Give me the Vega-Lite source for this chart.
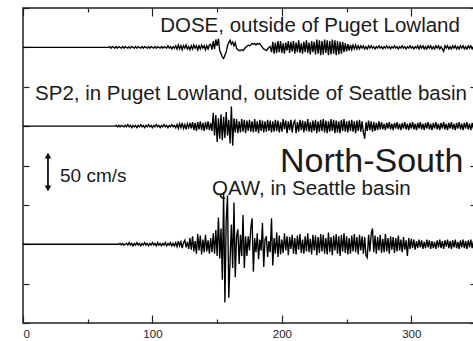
{
"$schema":"https://vega.github.io/schema/vega-lite/v6.json",
"width":453,"height":315,"autosize":"none",
"padding":{"left":23,"top":8,"right":0,"bottom":18},
"config":{"view":{"stroke":"#222","strokeWidth":1.5},"font":"Liberation Sans",
"axis":{"grid":false,"domain":false,"tickColor":"#222","tickWidth":1.2,"title":null,"labelFont":"Liberation Sans","labelColor":"#222"}},
"datasets":{"seis":[
{"t":0,"d":0,"s":0,"q":0},{"t":60,"d":0,"s":0,"q":0},{"t":66,"d":0,"s":0,"q":0},
{"t":67,"d":1,"s":0,"q":0},{"t":68,"d":-1,"s":0,"q":0},{"t":69,"d":1,"s":0,"q":0},{"t":70,"d":0,"s":0,"q":0},
{"t":71,"d":-1,"s":0,"q":0},{"t":72,"d":1,"s":1,"q":0},{"t":73,"d":-1,"s":-1,"q":0},{"t":74,"d":1,"s":1,"q":0},
{"t":75,"d":0,"s":-1,"q":1},{"t":76,"d":-1,"s":1,"q":-1},{"t":77,"d":1,"s":0,"q":1},{"t":78,"d":-1,"s":-1,"q":-1},
{"t":79,"d":1,"s":1,"q":0},{"t":80,"d":0,"s":-1,"q":1},{"t":81,"d":-1,"s":2,"q":-1},{"t":82,"d":1,"s":-1,"q":2},
{"t":83,"d":-1,"s":1,"q":-1},{"t":84,"d":1,"s":-2,"q":1},{"t":85,"d":0,"s":1,"q":-2},{"t":86,"d":-1,"s":-1,"q":1},
{"t":87,"d":1,"s":1,"q":-1},{"t":88,"d":-1,"s":-2,"q":2},{"t":89,"d":1,"s":1,"q":-1},{"t":90,"d":0,"s":-1,"q":1},
{"t":91,"d":-1,"s":2,"q":-2},{"t":92,"d":1,"s":-1,"q":1},{"t":93,"d":-1,"s":1,"q":-1},{"t":94,"d":1,"s":-2,"q":2},
{"t":95,"d":0,"s":1,"q":-1},{"t":96,"d":-1,"s":-1,"q":1},{"t":97,"d":1,"s":2,"q":-2},{"t":98,"d":-1,"s":-1,"q":1},
{"t":99,"d":1,"s":1,"q":-1},{"t":100,"d":0,"s":-2,"q":2},{"t":101,"d":-1,"s":1,"q":-1},{"t":102,"d":1,"s":-1,"q":1},
{"t":103,"d":-1,"s":2,"q":-2},{"t":104,"d":1,"s":-1,"q":2},{"t":105,"d":0,"s":1,"q":-1},{"t":106,"d":-1,"s":-2,"q":1},
{"t":107,"d":1,"s":1,"q":-2},{"t":108,"d":-1,"s":-1,"q":1},{"t":109,"d":1,"s":2,"q":-1},{"t":110,"d":0,"s":-1,"q":2},
{"t":111,"d":-1,"s":1,"q":-2},{"t":112,"d":2,"s":-2,"q":1},{"t":113,"d":-1,"s":1,"q":-1},{"t":114,"d":1,"s":-1,"q":2},
{"t":115,"d":-2,"s":2,"q":-2},{"t":116,"d":1,"s":-1,"q":1},{"t":117,"d":-1,"s":1,"q":-2},{"t":118,"d":2,"s":-2,"q":2},
{"t":119,"d":-2,"s":2,"q":-3},{"t":120,"d":3,"s":-3,"q":4},{"t":121,"d":-2,"s":3,"q":-2},{"t":122,"d":2,"s":-2,"q":3},
{"t":123,"d":-3,"s":4,"q":-5},{"t":124,"d":2,"s":-3,"q":2},{"t":125,"d":-1,"s":2,"q":5},{"t":126,"d":3,"s":-4,"q":-4},
{"t":127,"d":-2,"s":3,"q":3},{"t":128,"d":1,"s":-2,"q":-6},{"t":129,"d":-3,"s":4,"q":8},{"t":130,"d":2,"s":-3,"q":-7},
{"t":131,"d":-2,"s":5,"q":10},{"t":132,"d":3,"s":-5,"q":-9},{"t":133,"d":-1,"s":4,"q":4},{"t":134,"d":2,"s":-6,"q":-12},
{"t":135,"d":-3,"s":5,"q":13},{"t":136,"d":2,"s":-4,"q":-8},{"t":137,"d":-2,"s":6,"q":11},{"t":138,"d":3,"s":-5,"q":-13},
{"t":139,"d":-1,"s":4,"q":6},{"t":140,"d":2,"s":-6,"q":-10},{"t":141,"d":-3,"s":5,"q":12},{"t":142,"d":2,"s":-4,"q":-9},
{"t":143,"d":-2,"s":6,"q":5},{"t":144,"d":3,"s":-5,"q":-12},{"t":145,"d":4,"s":4,"q":8},{"t":146,"d":-3,"s":-6,"q":-10},
{"t":147,"d":8,"s":17,"q":14},{"t":148,"d":-2,"s":-12,"q":-12},{"t":149,"d":10,"s":14,"q":18},{"t":150,"d":2,"s":-20,"q":-15},
{"t":151,"d":11,"s":10,"q":34},{"t":152,"d":-4,"s":-16,"q":-18},{"t":153,"d":-8,"s":15,"q":20},{"t":154,"d":-12,"s":-18,"q":-45},
{"t":155,"d":-14,"s":12,"q":66},{"t":156,"d":-10,"s":-15,"q":-74},{"t":157,"d":-6,"s":18,"q":30},{"t":158,"d":2,"s":-12,"q":62},
{"t":159,"d":6,"s":8,"q":-68},{"t":160,"d":9,"s":-22,"q":-20},{"t":161,"d":4,"s":25,"q":25},{"t":162,"d":7,"s":-25,"q":-30},
{"t":163,"d":2,"s":10,"q":53},{"t":164,"d":6,"s":-8,"q":-42},{"t":165,"d":-1,"s":9,"q":10},{"t":166,"d":-3,"s":-9,"q":19},
{"t":167,"d":-4,"s":6,"q":-25},{"t":168,"d":-4,"s":-8,"q":12},{"t":169,"d":-3,"s":9,"q":-15},{"t":170,"d":-4,"s":-7,"q":37},
{"t":171,"d":-2,"s":8,"q":-30},{"t":172,"d":0,"s":-9,"q":10},{"t":173,"d":1,"s":7,"q":-15},{"t":174,"d":3,"s":-6,"q":10},
{"t":175,"d":2,"s":8,"q":-8},{"t":176,"d":3,"s":-7,"q":20},{"t":177,"d":5,"s":6,"q":33},{"t":178,"d":4,"s":-8,"q":-35},
{"t":179,"d":5,"s":9,"q":8},{"t":180,"d":3,"s":-7,"q":-10},{"t":181,"d":5,"s":6,"q":14},{"t":182,"d":4,"s":-9,"q":-19},
{"t":183,"d":5,"s":8,"q":6},{"t":184,"d":2,"s":-6,"q":-8},{"t":185,"d":0,"s":7,"q":27},{"t":186,"d":-2,"s":-8,"q":-29},
{"t":187,"d":-3,"s":6,"q":6},{"t":188,"d":-4,"s":-7,"q":10},{"t":189,"d":-2,"s":8,"q":-16},{"t":190,"d":0,"s":-6,"q":4},
{"t":191,"d":1,"s":7,"q":-10},{"t":192,"d":-6,"s":-8,"q":33},{"t":193,"d":7,"s":6,"q":-27},{"t":194,"d":-8,"s":-7,"q":8},
{"t":195,"d":6,"s":8,"q":-12},{"t":196,"d":-7,"s":-6,"q":15},{"t":197,"d":8,"s":7,"q":-16},{"t":198,"d":-6,"s":-8,"q":11},
{"t":199,"d":8,"s":5,"q":-13},{"t":200,"d":-7,"s":-7,"q":6},{"t":201,"d":5,"s":9,"q":-11},{"t":202,"d":-8,"s":-4,"q":14},
{"t":203,"d":6,"s":7,"q":-8},{"t":204,"d":-4,"s":-9,"q":10},{"t":205,"d":8,"s":6,"q":-14},{"t":206,"d":-7,"s":-5,"q":9},
{"t":207,"d":7,"s":8,"q":-6},{"t":208,"d":-5,"s":-8,"q":12},{"t":209,"d":8,"s":4,"q":-12},{"t":210,"d":-8,"s":7,"q":8},
{"t":211,"d":6,"s":-9,"q":-13},{"t":212,"d":-6,"s":5,"q":11},{"t":213,"d":9,"s":-7,"q":-7},{"t":214,"d":-7,"s":8,"q":13},
{"t":215,"d":5,"s":-5,"q":-11},{"t":216,"d":-8,"s":7,"q":6},{"t":217,"d":7,"s":-8,"q":-12},{"t":218,"d":-6,"s":6,"q":10},
{"t":219,"d":9,"s":-6,"q":-9},{"t":220,"d":-7,"s":9,"q":14},{"t":221,"d":6,"s":-7,"q":-10},{"t":222,"d":-9,"s":5,"q":7},
{"t":223,"d":8,"s":-8,"q":-13},{"t":224,"d":-6,"s":7,"q":12},{"t":225,"d":7,"s":-6,"q":-8},{"t":226,"d":-9,"s":8,"q":11},
{"t":227,"d":10,"s":-9,"q":-14},{"t":228,"d":-8,"s":6,"q":9},{"t":229,"d":9,"s":-7,"q":-11},{"t":230,"d":-10,"s":8,"q":13},
{"t":231,"d":8,"s":-6,"q":-9},{"t":232,"d":-9,"s":9,"q":12},{"t":233,"d":10,"s":-8,"q":-12},{"t":234,"d":-7,"s":7,"q":8},
{"t":235,"d":9,"s":-9,"q":-13},{"t":236,"d":-10,"s":6,"q":15},{"t":237,"d":8,"s":-7,"q":-10},{"t":238,"d":-9,"s":9,"q":9},
{"t":239,"d":10,"s":-6,"q":-14},{"t":240,"d":-8,"s":8,"q":11},{"t":241,"d":9,"s":-9,"q":-8},{"t":242,"d":-10,"s":7,"q":13},
{"t":243,"d":8,"s":-8,"q":-12},{"t":244,"d":-9,"s":6,"q":10},{"t":245,"d":7,"s":-9,"q":-15},{"t":246,"d":-8,"s":8,"q":12},
{"t":247,"d":7,"s":-6,"q":-9},{"t":248,"d":-6,"s":9,"q":14},{"t":249,"d":5,"s":-7,"q":-11},{"t":250,"d":-5,"s":6,"q":10},
{"t":251,"d":4,"s":-8,"q":-13},{"t":252,"d":-4,"s":7,"q":8},{"t":253,"d":3,"s":-6,"q":-12},{"t":254,"d":-3,"s":8,"q":11},
{"t":255,"d":3,"s":-7,"q":-9},{"t":256,"d":-2,"s":6,"q":13},{"t":257,"d":3,"s":-9,"q":-10},{"t":258,"d":-2,"s":7,"q":9},
{"t":259,"d":2,"s":-6,"q":-13},{"t":260,"d":-2,"s":8,"q":12},{"t":261,"d":2,"s":-7,"q":-8},{"t":262,"d":-1,"s":6,"q":10},
{"t":263,"d":2,"s":-8,"q":-12},{"t":264,"d":-2,"s":-16,"q":9},{"t":265,"d":1,"s":5,"q":-14},{"t":266,"d":-2,"s":-6,"q":-17},
{"t":267,"d":2,"s":7,"q":12},{"t":268,"d":-1,"s":-5,"q":-9},{"t":269,"d":2,"s":6,"q":13},{"t":270,"d":-1,"s":-7,"q":20},
{"t":271,"d":1,"s":5,"q":-10},{"t":272,"d":-2,"s":-6,"q":11},{"t":273,"d":1,"s":4,"q":-12},{"t":274,"d":-1,"s":-5,"q":9},
{"t":275,"d":2,"s":6,"q":-8},{"t":276,"d":-1,"s":-4,"q":12},{"t":277,"d":1,"s":5,"q":-11},{"t":278,"d":-2,"s":-4,"q":7},
{"t":279,"d":1,"s":3,"q":-10},{"t":280,"d":-1,"s":-5,"q":13},{"t":281,"d":2,"s":4,"q":-9},{"t":282,"d":-1,"s":-3,"q":8},
{"t":283,"d":1,"s":5,"q":-12},{"t":284,"d":-2,"s":-4,"q":10},{"t":285,"d":1,"s":3,"q":-7},{"t":286,"d":-1,"s":-5,"q":9},
{"t":287,"d":2,"s":4,"q":-11},{"t":288,"d":-1,"s":-3,"q":8},{"t":289,"d":1,"s":5,"q":-9},{"t":290,"d":-2,"s":-4,"q":11},
{"t":291,"d":1,"s":3,"q":-8},{"t":292,"d":-1,"s":-5,"q":6},{"t":293,"d":2,"s":4,"q":-10},{"t":294,"d":-1,"s":-3,"q":9},
{"t":295,"d":1,"s":5,"q":-7},{"t":296,"d":-2,"s":-4,"q":5},{"t":297,"d":1,"s":3,"q":-15},{"t":298,"d":-1,"s":-5,"q":8},
{"t":299,"d":2,"s":4,"q":-6},{"t":300,"d":-1,"s":-3,"q":7},{"t":301,"d":1,"s":5,"q":-5},{"t":302,"d":-2,"s":-4,"q":6},
{"t":303,"d":1,"s":3,"q":-7},{"t":304,"d":-1,"s":-5,"q":4},{"t":305,"d":2,"s":4,"q":-5},{"t":306,"d":-2,"s":-3,"q":6},
{"t":307,"d":2,"s":5,"q":-4},{"t":308,"d":-1,"s":-4,"q":5},{"t":309,"d":2,"s":3,"q":-6},{"t":310,"d":-2,"s":-5,"q":3},
{"t":311,"d":1,"s":4,"q":-5},{"t":312,"d":-2,"s":-3,"q":6},{"t":313,"d":2,"s":5,"q":-4},{"t":314,"d":-1,"s":-4,"q":5},
{"t":315,"d":2,"s":3,"q":-6},{"t":316,"d":-2,"s":-5,"q":4},{"t":317,"d":1,"s":4,"q":-5},{"t":318,"d":-2,"s":-3,"q":3},
{"t":319,"d":2,"s":5,"q":-6},{"t":320,"d":-1,"s":-4,"q":5},{"t":321,"d":2,"s":3,"q":-4},{"t":322,"d":-2,"s":-5,"q":6},
{"t":323,"d":1,"s":4,"q":-5},{"t":324,"d":-2,"s":-3,"q":4},{"t":325,"d":-5,"s":5,"q":-6},{"t":326,"d":2,"s":-4,"q":5},
{"t":327,"d":-1,"s":3,"q":-3},{"t":328,"d":2,"s":-5,"q":6},{"t":329,"d":-2,"s":4,"q":-5},{"t":330,"d":1,"s":-3,"q":4},
{"t":331,"d":-2,"s":5,"q":-6},{"t":332,"d":2,"s":-4,"q":5},{"t":333,"d":-1,"s":3,"q":-4},{"t":334,"d":2,"s":-5,"q":6},
{"t":335,"d":-2,"s":4,"q":-5},{"t":336,"d":1,"s":-3,"q":3},{"t":337,"d":-2,"s":5,"q":-6},{"t":338,"d":2,"s":-4,"q":5},
{"t":339,"d":-1,"s":3,"q":-4},{"t":340,"d":2,"s":-5,"q":6},{"t":341,"d":-2,"s":4,"q":-5},{"t":342,"d":1,"s":-3,"q":4},
{"t":343,"d":-2,"s":5,"q":-6},{"t":344,"d":2,"s":-4,"q":5},{"t":345,"d":-1,"s":3,"q":-4},{"t":346,"d":2,"s":-5,"q":6},
{"t":347,"d":-2,"s":4,"q":-5},{"t":348,"d":1,"s":-3,"q":4},{"t":349,"d":-2,"s":5,"q":-6},{"t":350,"d":2,"s":-4,"q":5}
]},
"layer":[
{"data":{"name":"seis"},"mark":{"type":"line","color":"#000","strokeWidth":1.35,"clip":true},
 "encoding":{
  "x":{"field":"t","type":"quantitative","scale":{"domain":[0,350],"nice":false},
       "axis":{"orient":"bottom","values":[0,100,200,300],"tickSize":-8,"labelPadding":13,"labelFontSize":11.5,"labels":true}},
  "y":{"field":"q","type":"quantitative","scale":{"domain":[-100,300],"nice":false,"zero":false},
       "axis":{"orient":"left","values":[-100,-50,0,50,100,150,200,250,300],"tickSize":-6,"labels":false}}}},
{"data":{"name":"seis"},"mark":{"type":"line","color":"#000","strokeWidth":1.35,"clip":true},
 "encoding":{
  "x":{"field":"t","type":"quantitative","scale":{"domain":[0,350],"nice":false},
       "axis":{"orient":"bottom","values":[50,150,250,350],"tickSize":-4,"labels":false}},
  "y":{"field":"s","type":"quantitative","scale":{"domain":[-250,150],"nice":false,"zero":false},
       "axis":{"orient":"right","values":[-250,-200,-150,-100,-50,0,50,100,150],"tickSize":-6,"labels":false}}}},
{"data":{"name":"seis"},"mark":{"type":"line","color":"#000","strokeWidth":1.35,"clip":true},
 "encoding":{
  "x":{"field":"t","type":"quantitative","scale":{"domain":[0,350],"nice":false},
       "axis":{"orient":"top","values":[0,100,200,300],"tickSize":-8,"labels":false}},
  "y":{"field":"d","type":"quantitative","scale":{"domain":[-350,50],"nice":false,"zero":false},"axis":null}}},
{"data":{"values":[{}]},"mark":{"type":"text","align":"left","baseline":"alphabetic","fontSize":20.5,"color":"#1a1a1a"},
 "encoding":{"x":{"datum":106,"type":"quantitative","axis":{"orient":"top","values":[50,150,250,350],"tickSize":-4,"labels":false}},
  "y":{"datum":269.5,"type":"quantitative","scale":{"domain":[-100,300],"nice":false,"zero":false},"axis":null},
  "text":{"value":"DOSE, outside of Puget Lowland"}}},
{"data":{"values":[{}]},"mark":{"type":"text","align":"left","baseline":"alphabetic","fontSize":20.5,"color":"#1a1a1a"},
 "encoding":{"x":{"datum":9.3,"type":"quantitative","axis":null},
  "y":{"datum":183,"type":"quantitative","scale":{"domain":[-100,300],"nice":false,"zero":false},"axis":null},
  "text":{"value":"SP2, in Puget Lowland, outside of Seattle basin"}}},
{"data":{"values":[{}]},"mark":{"type":"text","align":"left","baseline":"alphabetic","fontSize":34,"color":"#1a1a1a"},
 "encoding":{"x":{"datum":198.6,"type":"quantitative","axis":null},
  "y":{"datum":92,"type":"quantitative","scale":{"domain":[-100,300],"nice":false,"zero":false},"axis":null},
  "text":{"value":"North-South"}}},
{"data":{"values":[{}]},"mark":{"type":"text","align":"left","baseline":"alphabetic","fontSize":19,"color":"#1a1a1a"},
 "encoding":{"x":{"datum":28.6,"type":"quantitative","axis":null},
  "y":{"datum":79,"type":"quantitative","scale":{"domain":[-100,300],"nice":false,"zero":false},"axis":null},
  "text":{"value":"50 cm/s"}}},
{"data":{"values":[{}]},"mark":{"type":"text","align":"left","baseline":"alphabetic","fontSize":20.5,"color":"#1a1a1a"},
 "encoding":{"x":{"datum":146,"type":"quantitative","axis":null},
  "y":{"datum":62.5,"type":"quantitative","scale":{"domain":[-100,300],"nice":false,"zero":false},"axis":null},
  "text":{"value":"QAW, in Seattle basin"}}},
{"data":{"values":[{}]},"mark":{"type":"rule","color":"#111","strokeWidth":1.8},
 "encoding":{"x":{"datum":19.3,"type":"quantitative","axis":null},
  "y":{"datum":70,"type":"quantitative","scale":{"domain":[-100,300],"nice":false,"zero":false},"axis":null},
  "y2":{"datum":113}}},
{"data":{"values":[{}]},"mark":{"type":"point","shape":"triangle-up","filled":true,"color":"#111","size":45,"opacity":1},
 "encoding":{"x":{"datum":19.3,"type":"quantitative","axis":null},
  "y":{"datum":112.5,"type":"quantitative","scale":{"domain":[-100,300],"nice":false,"zero":false},"axis":null}}},
{"data":{"values":[{}]},"mark":{"type":"point","shape":"triangle-down","filled":true,"color":"#111","size":45,"opacity":1},
 "encoding":{"x":{"datum":19.3,"type":"quantitative","axis":null},
  "y":{"datum":71,"type":"quantitative","scale":{"domain":[-100,300],"nice":false,"zero":false},"axis":null}}}
],
"resolve":{"scale":{"y":"independent"},"axis":{"x":"independent","y":"independent"}}
}
